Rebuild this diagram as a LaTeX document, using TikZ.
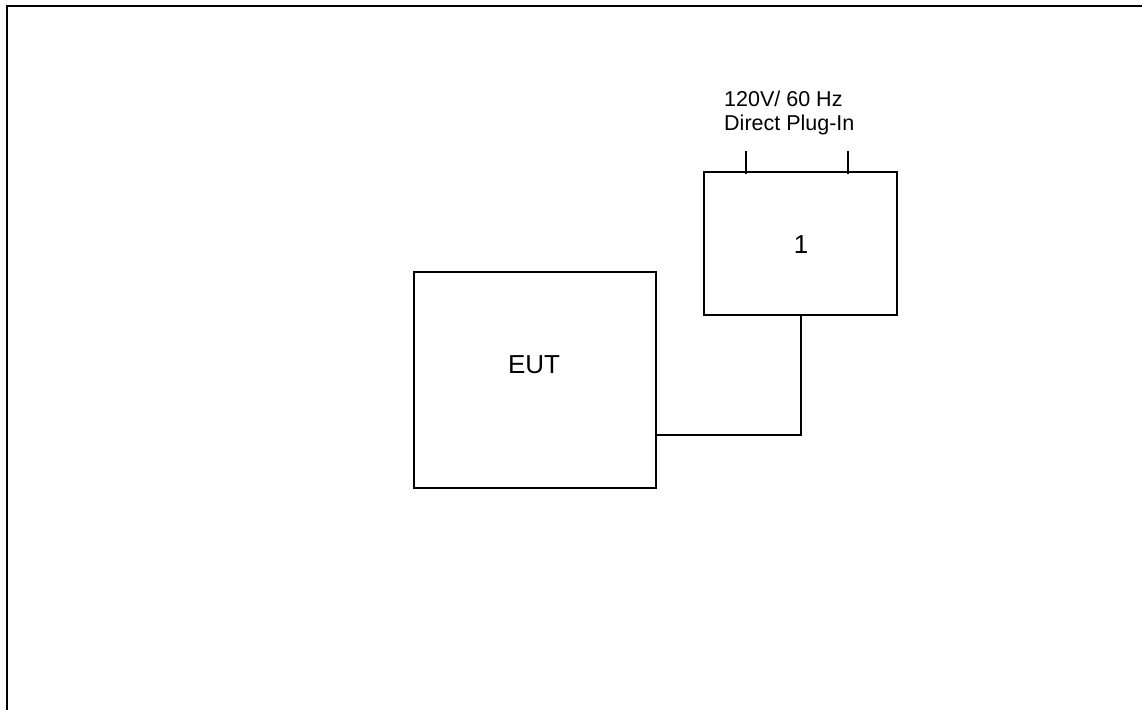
\documentclass[tikz,border=0pt]{standalone}
\usepackage{fontspec}
\setmainfont{Liberation Sans}
\begin{document}
\begin{tikzpicture}[x=1pt,y=-1pt,
  box/.style={draw=black, line width=1.9pt, inner sep=0pt},
  wire/.style={draw=black, line width=1.9pt},
  big/.style={inner sep=0pt, font=\fontsize{26}{30}\selectfont},
  lbl/.style={inner sep=0pt, font=\fontsize{21.5}{24}\selectfont}]
\useasboundingbox (0,0) rectangle (1142,709);
\clip (0,0) rectangle (1142,709);
% outer frame
\draw[line width=2.4pt] (7,720) -- (7,6) -- (1160,6);
% box 1
\node[box, minimum width=193pt, minimum height=143pt] (b1) at (800.5,243.5) {};
\node[big] (t1) at (801,245) {1};
% EUT box
\node[box, minimum width=242pt, minimum height=216pt] (eut) at (535,380) {};
\node[big] (teut) at (534,364.5) {EUT};
% plug label
\node[lbl, anchor=north west, align=left] (plug) at (724,91) {120V/ 60 Hz\\Direct Plug-In};
% plug prongs
\coordinate (pa) at (746,151);
\coordinate (pb) at (848,151);
\draw[wire] (pa) -- ([yshift=-3pt]pa |- b1.north);
\draw[wire] (pb) -- ([yshift=-3pt]pb |- b1.north);
% connector
\coordinate (c1) at (801,0);
\coordinate (c2) at (0,435);
\draw[wire] (c1 |- b1.south) -- (c1 |- c2) -- (eut.east |- c2);
\end{tikzpicture}
\end{document}
